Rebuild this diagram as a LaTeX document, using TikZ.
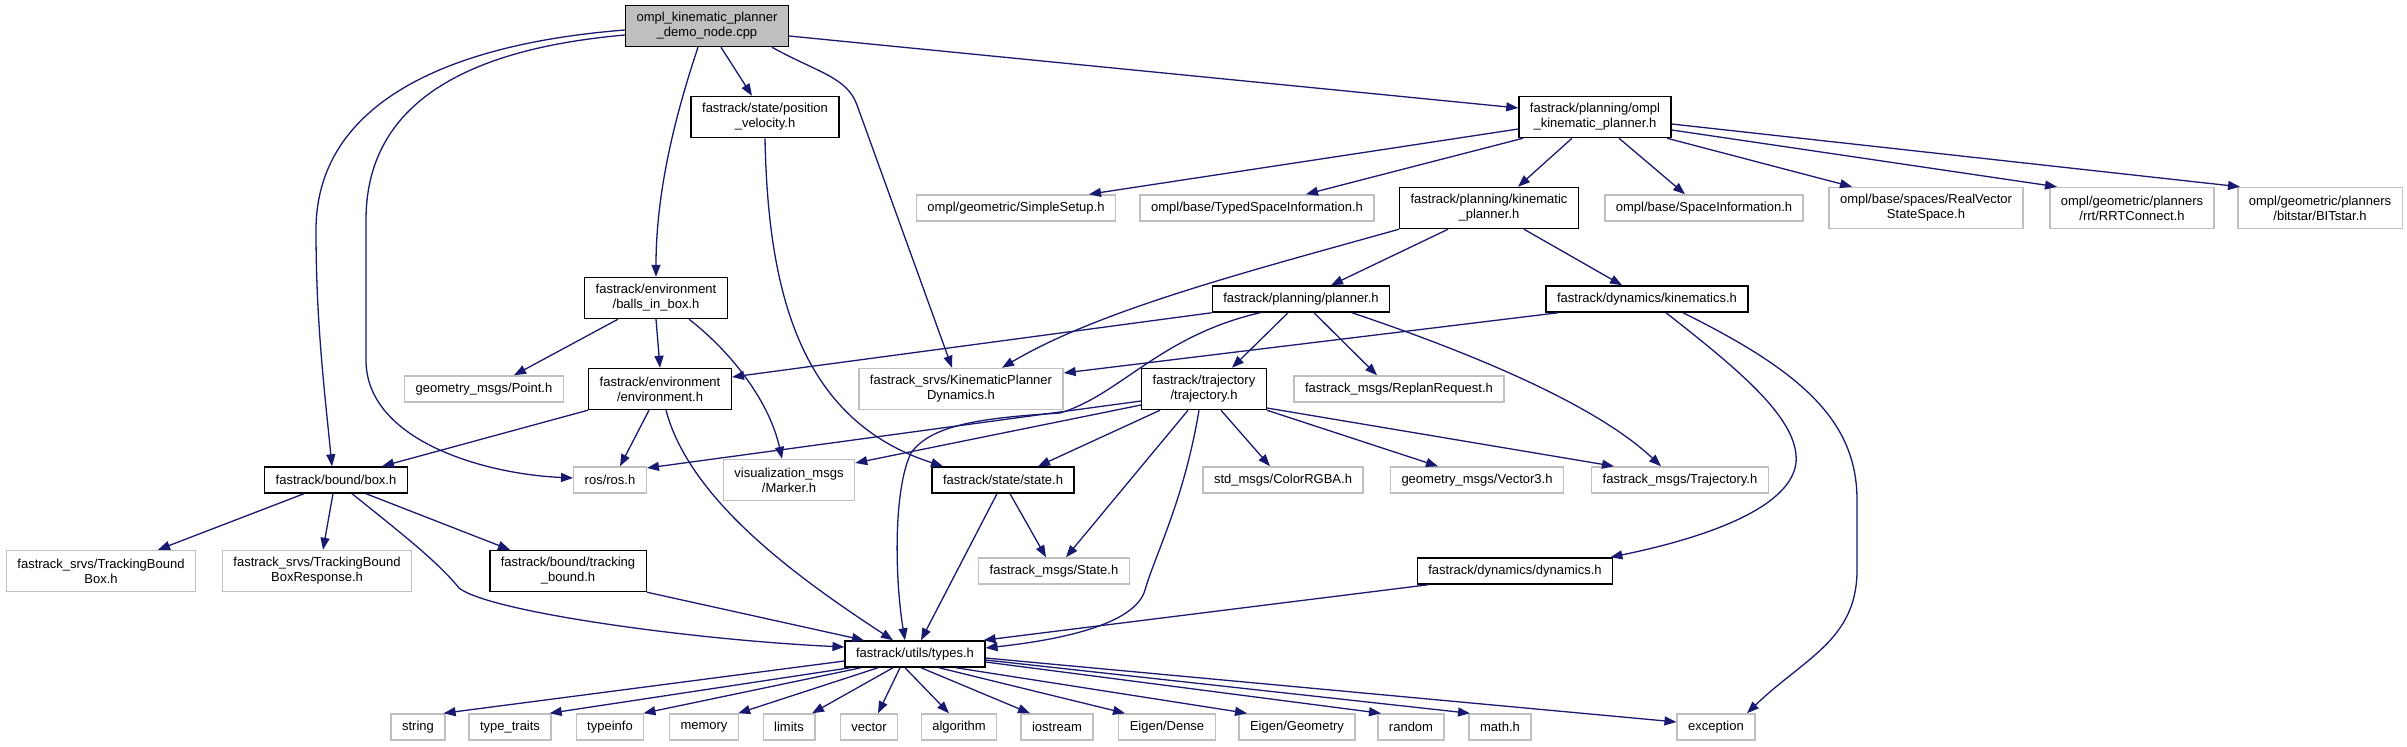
\documentclass[tikz,border=0pt]{standalone}
\usepackage{fontspec}
\setmainfont{Liberation Sans}
\usepackage{tikz}
\usetikzlibrary{arrows.meta}
\definecolor{edgeblue}{HTML}{191970}
\definecolor{extgrey}{HTML}{BFBFBF}

\begin{document}
\begin{tikzpicture}[x=1pt, y=-1pt,
    file/.style={draw=black, line width=1.4pt, rectangle, align=center, inner xsep=11pt, inner ysep=7pt,
        minimum height=26pt, font=\fontsize{13}{15}\selectfont},
    ext/.style={file, draw=extgrey},
    tall/.style={minimum height=41pt},
    inc/.style={draw=edgeblue, line width=1.3pt, -{Triangle[length=12pt,width=9pt]}}]
    \useasboundingbox (0,0) rectangle (2407,747);

    % Source file
    \node[file, tall, fill=extgrey] (demo) at (707,26) {ompl\_kinematic\_planner\\\_demo\_node.cpp};

    % Rank 1
    \node[file, tall] (posvel) at (765,117) {fastrack/state/position\\\_velocity.h};
    \node[file, tall] (omplkp) at (1595,117) {fastrack/planning/ompl\\\_kinematic\_planner.h};

    % Rank 2
    \node[ext] (simplesetup) at (1016,208) {ompl/geometric/SimpleSetup.h};
    \node[ext] (typedsi) at (1257,208) {ompl/base/TypedSpaceInformation.h};
    \node[file, tall] (kinplanner) at (1489,208) {fastrack/planning/kinematic\\\_planner.h};
    \node[ext] (spaceinfo) at (1704,208) {ompl/base/SpaceInformation.h};
    \node[ext, tall] (realvector) at (1926,208) {ompl/base/spaces/RealVector\\StateSpace.h};
    \node[ext, tall] (rrtconnect) at (2132,208) {ompl/geometric/planners\\/rrt/RRTConnect.h};
    \node[ext, tall] (bitstar) at (2320,208) {ompl/geometric/planners\\/bitstar/BITstar.h};

    % Rank 3
    \node[file, tall] (ballsbox) at (656,298) {fastrack/environment\\/balls\_in\_box.h};
    \node[file] (planner) at (1301,299) {fastrack/planning/planner.h};
    \node[file] (kinematics) at (1647,299) {fastrack/dynamics/kinematics.h};

    % Rank 4
    \node[ext] (pointmsg) at (484,389) {geometry\_msgs/Point.h};
    \node[file, tall] (environment) at (660,389) {fastrack/environment\\/environment.h};
    \node[ext, tall] (kpdyn) at (961,389) {fastrack\_srvs/KinematicPlanner\\Dynamics.h};
    \node[file, tall] (trajectory) at (1204,389) {fastrack/trajectory\\/trajectory.h};
    \node[ext] (replan) at (1399,389) {fastrack\_msgs/ReplanRequest.h};

    % Rank 5
    \node[file] (box) at (336,480) {fastrack/bound/box.h};
    \node[ext] (ros) at (610,480) {ros/ros.h};
    \node[ext, tall] (marker) at (789,480) {visualization\_msgs\\/Marker.h};
    \node[file] (state) at (1003,480) {fastrack/state/state.h};
    \node[ext] (colorrgba) at (1283,480) {std\_msgs/ColorRGBA.h};
    \node[ext] (vector3) at (1477,480) {geometry\_msgs/Vector3.h};
    \node[ext] (trajmsg) at (1680,480) {fastrack\_msgs/Trajectory.h};

    % Rank 6
    \node[ext, tall] (tbbox) at (101,571) {fastrack\_srvs/TrackingBound\\Box.h};
    \node[ext, tall] (tbboxresp) at (317,571) {fastrack\_srvs/TrackingBound\\BoxResponse.h};
    \node[file, tall] (trackbound) at (568,571) {fastrack/bound/tracking\\\_bound.h};
    \node[ext] (statemsg) at (1054,571) {fastrack\_msgs/State.h};
    \node[file] (dynamics) at (1515,571) {fastrack/dynamics/dynamics.h};

    % Rank 7
    \node[file] (types) at (915,654) {fastrack/utils/types.h};

    % Standard headers
    \node[ext] (string) at (418,727) {string};
    \node[ext] (typetraits) at (510,727) {type\_traits};
    \node[ext] (typeinfo) at (610,727) {typeinfo};
    \node[ext] (memory) at (704,727) {memory};
    \node[ext] (limits) at (789,727) {limits};
    \node[ext] (vector) at (869,727) {vector};
    \node[ext] (algorithm) at (959,727) {algorithm};
    \node[ext] (iostream) at (1057,727) {iostream};
    \node[ext] (eigendense) at (1167,727) {Eigen/Dense};
    \node[ext] (eigengeom) at (1297,727) {Eigen/Geometry};
    \node[ext] (random) at (1411,727) {random};
    \node[ext] (mathh) at (1500,727) {math.h};
    \node[ext] (exception) at (1716,727) {exception};

    % Includes of the source file
    \draw[inc] ([yshift=-4pt]demo.west) .. controls +(-190,15) and +(0,-120) .. (316,230)
        .. controls +(0,90) and +(-8,-80) .. ([xshift=-4pt]box.north);
    \draw[inc] ([yshift=-9pt]demo.west) .. controls +(-170,15) and +(0,-110) .. (366,220) -- (366,360)
        .. controls +(0,80) and +(-90,-4) .. ([yshift=2pt]ros.west);
    \draw[inc] ([xshift=-9pt]demo.south) .. controls +(-20,60) and +(0,-90) .. (ballsbox.north);
    \draw[inc] ([xshift=14pt]demo.south) -- ([xshift=-13pt]posvel.north);
    \draw[inc] ([xshift=65pt]demo.south) .. controls +(45,25) and +(-10,-28) .. (857,105) -- ([xshift=-9pt]kpdyn.north);
    \draw[inc] ([yshift=-10pt]demo.east) -- ([yshift=9pt]omplkp.west);

    % position_velocity.h
    \draw[inc] (posvel.south) .. controls +(3,160) and +(-140,-45) .. ([xshift=-60pt]state.north);

    % ompl_kinematic_planner.h
    \draw[inc] ([yshift=-12pt]omplkp.west) -- ([xshift=73pt]simplesetup.north);
    \draw[inc] ([xshift=-72pt]omplkp.south) -- ([xshift=49pt]typedsi.north);
    \draw[inc] ([xshift=-23pt]omplkp.south) -- ([xshift=29pt]kinplanner.north);
    \draw[inc] ([xshift=24pt]omplkp.south) -- ([xshift=-19pt]spaceinfo.north);
    \draw[inc] ([xshift=72pt]omplkp.south) -- ([xshift=-74pt]realvector.north);
    \draw[inc] ([yshift=-13pt]omplkp.east) -- ([xshift=-75pt]rrtconnect.north);
    \draw[inc] ([yshift=-7pt]omplkp.east) -- ([xshift=-80pt]bitstar.north);

    % kinematic_planner.h
    \draw[inc] (kinplanner.south west) .. controls +(-150,42) and +(98,-58) .. ([xshift=41pt]kpdyn.north);
    \draw[inc] ([xshift=-41pt]kinplanner.south) -- ([xshift=30pt]planner.north);
    \draw[inc] ([xshift=35pt]kinplanner.south) -- ([xshift=-25pt]kinematics.north);

    % balls_in_box.h
    \draw[inc] ([xshift=-38pt]ballsbox.south) -- ([xshift=30pt]pointmsg.north);
    \draw[inc] (ballsbox.south) -- (environment.north);
    \draw[inc] ([xshift=33pt]ballsbox.south) .. controls +(45,35) and +(-12,-55) .. ([xshift=-7pt]marker.north);

    % planner.h
    \draw[inc] (planner.south west) -- ([yshift=12pt]environment.east);
    \draw[inc] ([xshift=-41pt]planner.south) .. controls +(-100,23) and +(60,-18) .. (1060,413)
        .. controls +(-80,5) and +(20,-28) .. (911,453)
        .. controls +(-18,37) and +(-10,-60) .. ([xshift=-10pt]types.north);
    \draw[inc] ([xshift=-13pt]planner.south) -- ([xshift=28pt]trajectory.north);
    \draw[inc] ([xshift=13pt]planner.south) -- ([xshift=-22pt]replan.north);
    \draw[inc] ([xshift=51pt]planner.south) .. controls +(98,33) and +(-71,-67) .. ([xshift=-19pt]trajmsg.north);

    % kinematics.h
    \draw[inc] ([xshift=-89pt]kinematics.south) -- ([yshift=16pt]kpdyn.east);
    \draw[inc] ([xshift=19pt]kinematics.south) .. controls +(74,58) and +(4,-43) .. (1796,463)
        .. controls +(-6,47) and +(88,-18) .. ([xshift=-3pt]dynamics.north east);
    \draw[inc] ([xshift=36pt]kinematics.south) .. controls +(117,58) and +(0,-80) .. (1857,500) -- (1857,570)
        .. controls +(0,70) and +(57,-55) .. ([xshift=31pt]exception.north);

    % environment.h
    \draw[inc] (environment.south west) -- ([xshift=46pt]box.north);
    \draw[inc] ([xshift=-11pt]environment.south) -- ([xshift=10pt]ros.north);
    \draw[inc] ([xshift=6pt]environment.south) .. controls +(24,91) and +(-93,-61) .. ([xshift=-22pt]types.north);

    % trajectory.h
    \draw[inc] ([yshift=-12pt]trajectory.west) -- ([yshift=12pt]ros.east);
    \draw[inc] ([yshift=-16pt]trajectory.west) -- ([yshift=17pt]marker.east);
    \draw[inc] ([xshift=-44pt]trajectory.south) -- ([xshift=35pt]state.north);
    \draw[inc] ([xshift=-16pt]trajectory.south) -- ([xshift=12pt]statemsg.north);
    \draw[inc] ([xshift=-5pt]trajectory.south) .. controls +(-15,90) and +(10,-35) .. (1145,590)
        .. controls +(-10,35) and +(73,-8) .. ([yshift=6pt]types.east);
    \draw[inc] ([xshift=17pt]trajectory.south) -- ([xshift=-13pt]colorrgba.north);
    \draw[inc] (trajectory.south east) -- ([xshift=-39pt]vector3.north);
    \draw[inc] ([yshift=-19pt]trajectory.east) -- ([xshift=-66pt]trajmsg.north);

    % box.h
    \draw[inc] ([xshift=-32pt]box.south) -- ([xshift=57pt]tbbox.north);
    \draw[inc] ([xshift=-3pt]box.south) -- ([xshift=6pt]tbboxresp.north);
    \draw[inc] ([xshift=30pt]box.south) -- ([xshift=-58pt]trackbound.north);
    \draw[inc] ([xshift=16pt]box.south) .. controls +(50,40) and +(-20,-25) .. (459,588)
        .. controls +(30,24) and +(-150,-7) .. ([yshift=7pt]types.west);

    % tracking_bound.h, state.h, dynamics.h
    \draw[inc] (trackbound.south east) -- ([xshift=-51pt]types.north);
    \draw[inc] ([xshift=7pt]state.south) -- ([xshift=-8pt]statemsg.north);
    \draw[inc] ([xshift=-6pt]state.south) -- ([xshift=6pt]types.north);
    \draw[inc] ([xshift=-87pt]dynamics.south) -- ([xshift=-2pt]types.north east);

    % types.h
    \draw[inc] ([yshift=-7pt]types.west) -- ([xshift=-2pt]string.north east);
    \draw[inc] ([xshift=-65pt]types.south) -- ([xshift=-2pt]typetraits.north east);
    \draw[inc] ([xshift=-54pt]types.south) -- ([xshift=-1pt]typeinfo.north east);
    \draw[inc] ([xshift=-37pt]types.south) -- ([xshift=-1pt]memory.north east);
    \draw[inc] ([xshift=-22pt]types.south) -- ([xshift=23pt]limits.north);
    \draw[inc] ([xshift=-15pt]types.south) -- ([xshift=9pt]vector.north);
    \draw[inc] ([xshift=-10pt]types.south) -- ([xshift=-10pt]algorithm.north);
    \draw[inc] ([xshift=6pt]types.south) -- ([xshift=-27pt]iostream.north);
    \draw[inc] ([xshift=24pt]types.south) -- ([xshift=-42pt]eigendense.north);
    \draw[inc] ([xshift=41pt]types.south) -- ([xshift=-50pt]eigengeom.north);
    \draw[inc] ([yshift=-8pt]types.east) -- ([xshift=-30pt]random.north);
    \draw[inc] ([yshift=-6pt]types.east) -- ([xshift=-30pt]mathh.north);
    \draw[inc] ([yshift=-4pt]types.east) -- ([yshift=5pt]exception.west);
\end{tikzpicture}
\end{document}
